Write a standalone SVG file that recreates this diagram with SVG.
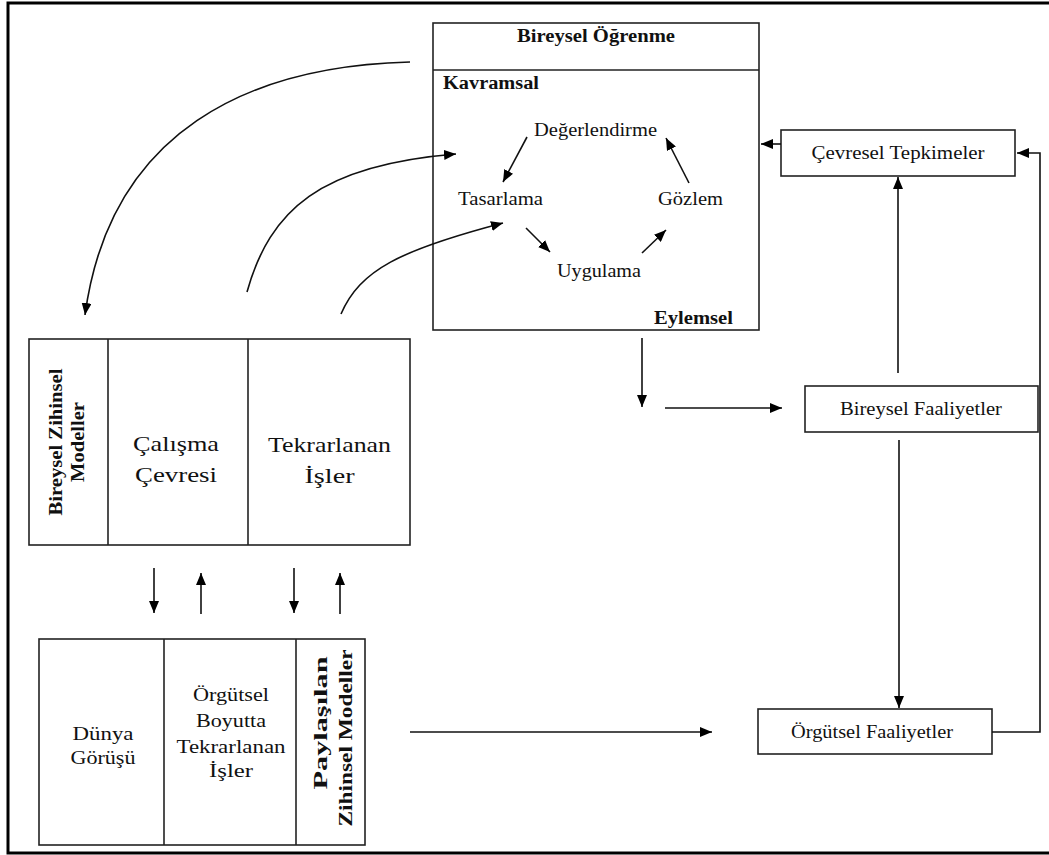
<svg xmlns="http://www.w3.org/2000/svg" width="1049" height="855" viewBox="0 0 1049 855">
  <style>
    .box { fill: #fff; stroke: #222; stroke-width: 1.6; }
    .frame { fill: none; stroke: #000; stroke-width: 3; }
    .div { stroke: #222; stroke-width: 1.6; }
    .con { fill: none; stroke: #111; stroke-width: 1.6; }
    .t { font-family: "Liberation Serif", "Times New Roman", serif; fill: #111; text-anchor: middle; }
    .b { font-weight: bold; }
    .s { text-anchor: start; }
  </style>
  <defs>
    <marker id="arr" viewBox="0 0 12 10" refX="12" refY="5" markerWidth="12" markerHeight="10" orient="auto" markerUnits="userSpaceOnUse">
      <path d="M0,0 L12,5 L0,10 z" fill="#000"/>
    </marker>
  </defs>

  <rect x="0" y="0" width="1049" height="855" fill="#fff"/>
  <rect class="frame" x="8" y="3" width="1045" height="850"/>

  <!-- Individual learning box -->
  <g id="bireysel-ogrenme">
    <rect class="box" x="433" y="23" width="326" height="307"/>
    <line class="div" x1="433" y1="70" x2="759" y2="70"/>
    <text class="t b" x="596" y="42" font-size="18.5" textLength="158" lengthAdjust="spacingAndGlyphs">Bireysel Öğrenme</text>
    <text class="t b s" x="443" y="89" font-size="18.5" textLength="96" lengthAdjust="spacingAndGlyphs">Kavramsal</text>
    <text class="t b s" x="654" y="324" font-size="18.5" textLength="79" lengthAdjust="spacingAndGlyphs">Eylemsel</text>
    <text class="t" x="595.5" y="136" font-size="19" textLength="123" lengthAdjust="spacingAndGlyphs">Değerlendirme</text>
    <text class="t" x="500.5" y="205" font-size="19" textLength="85" lengthAdjust="spacingAndGlyphs">Tasarlama</text>
    <text class="t" x="690.5" y="205" font-size="19" textLength="65" lengthAdjust="spacingAndGlyphs">Gözlem</text>
    <text class="t" x="599" y="277" font-size="19" textLength="84" lengthAdjust="spacingAndGlyphs">Uygulama</text>
  </g>

  <!-- Individual mental models box -->
  <g id="bireysel-zihinsel-modeller">
    <rect class="box" x="29" y="339" width="381" height="206"/>
    <line class="div" x1="108" y1="339" x2="108" y2="545"/>
    <line class="div" x1="248" y1="339" x2="248" y2="545"/>
    <text class="t b" transform="translate(62,442) rotate(-90)" font-size="18.5" textLength="147" lengthAdjust="spacingAndGlyphs">Bireysel  Zihinsel</text>
    <text class="t b" transform="translate(84,442) rotate(-90)" font-size="18.5" textLength="80" lengthAdjust="spacingAndGlyphs">Modeller</text>
    <text class="t" x="176" y="451" font-size="22" textLength="86" lengthAdjust="spacingAndGlyphs">Çalışma</text>
    <text class="t" x="176" y="482" font-size="22" textLength="82" lengthAdjust="spacingAndGlyphs">Çevresi</text>
    <text class="t" x="329.5" y="452" font-size="22" textLength="123" lengthAdjust="spacingAndGlyphs">Tekrarlanan</text>
    <text class="t" x="329.5" y="483" font-size="22" textLength="50" lengthAdjust="spacingAndGlyphs">İşler</text>
  </g>

  <!-- Shared mental models box -->
  <g id="paylasilan-zihinsel-modeller">
    <rect class="box" x="39" y="639" width="326" height="206"/>
    <line class="div" x1="164" y1="639" x2="164" y2="845"/>
    <line class="div" x1="296" y1="639" x2="296" y2="845"/>
    <text class="t" x="103" y="740" font-size="19" textLength="61" lengthAdjust="spacingAndGlyphs">Dünya</text>
    <text class="t" x="103" y="764" font-size="19" textLength="65" lengthAdjust="spacingAndGlyphs">Görüşü</text>
    <text class="t" x="231" y="701" font-size="19" textLength="76" lengthAdjust="spacingAndGlyphs">Örgütsel</text>
    <text class="t" x="231" y="727" font-size="19" textLength="70" lengthAdjust="spacingAndGlyphs">Boyutta</text>
    <text class="t" x="231" y="753" font-size="19" textLength="109" lengthAdjust="spacingAndGlyphs">Tekrarlanan</text>
    <text class="t" x="231" y="777" font-size="19" textLength="44" lengthAdjust="spacingAndGlyphs">İşler</text>
    <text class="t b" transform="translate(327,723) rotate(-90)" font-size="19" textLength="133" lengthAdjust="spacingAndGlyphs">Paylaşılan</text>
    <text class="t b" transform="translate(352,738) rotate(-90)" font-size="19" textLength="177" lengthAdjust="spacingAndGlyphs">Zihinsel Modeller</text>
  </g>

  <g id="cevresel-tepkimeler">
    <rect class="box" x="781" y="130" width="234" height="46"/>
    <text class="t" x="898" y="159" font-size="18.5" textLength="173" lengthAdjust="spacingAndGlyphs">Çevresel Tepkimeler</text>
  </g>

  <g id="bireysel-faaliyetler">
    <rect class="box" x="805" y="386" width="233" height="46"/>
    <text class="t" x="921" y="415" font-size="18.5" textLength="162" lengthAdjust="spacingAndGlyphs">Bireysel Faaliyetler</text>
  </g>

  <g id="orgutsel-faaliyetler">
    <rect class="box" x="758" y="709" width="234" height="45"/>
    <text class="t" x="872" y="738" font-size="18.5" textLength="162" lengthAdjust="spacingAndGlyphs">Örgütsel Faaliyetler</text>
  </g>

  <!-- Connectors -->
  <g id="connectors">
    <!-- learning cycle -->
    <line class="con" x1="527" y1="137" x2="503" y2="182" marker-end="url(#arr)"/>
    <line class="con" x1="526" y1="228" x2="550" y2="252" marker-end="url(#arr)"/>
    <line class="con" x1="642" y1="253" x2="666" y2="230" marker-end="url(#arr)"/>
    <line class="con" x1="689" y1="183" x2="666" y2="138" marker-end="url(#arr)"/>

    <!-- curved links between learning box and individual models -->
    <path class="con" d="M410,62 C250,66 110,130 85,315" marker-end="url(#arr)"/>
    <path class="con" d="M247,292 C270,210 320,165 456,154" marker-end="url(#arr)"/>
    <path class="con" d="M341,314 C360,270 400,250 503,223" marker-end="url(#arr)"/>

    <!-- between the two left boxes -->
    <line class="con" x1="154" y1="568" x2="154" y2="613" marker-end="url(#arr)"/>
    <line class="con" x1="201" y1="614" x2="201" y2="573" marker-end="url(#arr)"/>
    <line class="con" x1="294" y1="568" x2="294" y2="613" marker-end="url(#arr)"/>
    <line class="con" x1="340" y1="614" x2="340" y2="573" marker-end="url(#arr)"/>

    <!-- right side flow -->
    <line class="con" x1="642" y1="338" x2="642" y2="407" marker-end="url(#arr)"/>
    <line class="con" x1="665" y1="408" x2="782" y2="408" marker-end="url(#arr)"/>
    <line class="con" x1="781" y1="144" x2="761" y2="144" marker-end="url(#arr)"/>
    <line class="con" x1="898" y1="373" x2="898" y2="177" marker-end="url(#arr)"/>
    <line class="con" x1="899" y1="440" x2="899" y2="708" marker-end="url(#arr)"/>
    <line class="con" x1="410" y1="732" x2="712" y2="732" marker-end="url(#arr)"/>
    <polyline class="con" points="992,732 1040,732 1040,153 1017,153" marker-end="url(#arr)"/>
  </g>
</svg>
